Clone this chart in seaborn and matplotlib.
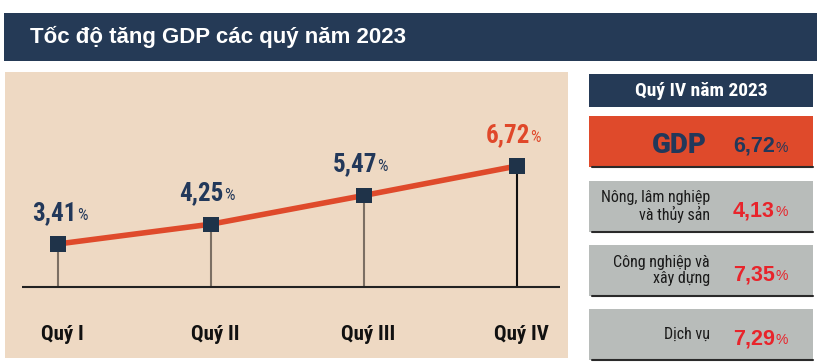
import numpy as np
import pandas as pd
import matplotlib.pyplot as plt
import seaborn as sns
from matplotlib.patches import Rectangle

# data
quarters = ['Quý I', 'Quý II', 'Quý III', 'Quý IV']
growth = [3.41, 4.25, 5.47, 6.72]
label_colors = ['#22385a', '#22385a', '#22385a', '#e0482a']
stem_colors = ['#7b6f63', '#7b6f63', '#7b6f63', '#111111']

title = 'Tốc độ tăng GDP các quý năm 2023'
panel_title = 'Quý IV năm 2023'
sectors = ['GDP', 'Nông, lâm nghiệp\nvà thủy sản', 'Công nghiệp và\nxây dựng', 'Dịch vụ']
sector_growth = [6.72, 4.13, 7.35, 7.29]

NAVY = '#253a56'
ORANGE = '#df4a2b'
GRAY = '#b8bcba'
RED = '#e8242b'
BEIGE = '#eed9c3'
NARROW = ['Roboto Condensed', 'Liberation Sans', 'DejaVu Sans']
WIDE = ['Liberation Sans', 'DejaVu Sans']


def fmt(v):
    return f'{v:.2f}'.replace('.', ',')


sns.set_theme(style='white')
plt.rcParams['font.family'] = WIDE

W, H = 817, 362
fig = plt.figure(figsize=(W / 100, H / 100), dpi=100, facecolor='white')

# background layer in pixel coordinates
bg = fig.add_axes([0, 0, 1, 1], zorder=0)
bg.set_xlim(0, W)
bg.set_ylim(H, 0)
bg.axis('off')

bg.add_patch(Rectangle((4, 13), W - 4, 48, color=NAVY, lw=0))
bg.text(30, 37, title, color='white', fontsize=16, fontweight='bold',
        va='center', ha='left', family=WIDE)

bg.add_patch(Rectangle((5, 72), 563, 286, color=BEIGE, lw=0))

# right panel
bg.add_patch(Rectangle((589, 74), 224, 33, color=NAVY, lw=0))
bg.text(701, 91, panel_title, color='white', fontsize=14, fontweight='bold',
        ha='center', va='center', family=NARROW)

box_tops = [116, 181, 245, 309]
box_h = 51
for i, (name, val) in enumerate(zip(sectors, sector_growth)):
    top = box_tops[i]
    cy = top + box_h / 2
    bg.add_patch(Rectangle((589, top), 224, box_h, color=ORANGE if i == 0 else GRAY, lw=0))
    bg.plot([592, 813], [top + box_h, top + box_h], color='#2a2a2a', lw=1.5)
    if i == 0:
        bg.text(707, cy + 11.5, name, color='#22385a', fontsize=20, fontweight='black',
                ha='right', va='baseline', family=['Roboto'] + WIDE)
        vcol = '#22385a'
    else:
        bg.text(710, cy, name, color='#1a1a1a', fontsize=11.5, ha='right', va='center',
                multialignment='right', linespacing=1.0, family=NARROW)
        vcol = RED
    bg.text(775, cy + 10, fmt(val), color=vcol, fontsize=15.5, fontweight='bold',
            ha='right', va='baseline', family=WIDE)
    bg.text(776, cy + 10, '%', color=vcol, fontsize=10, ha='left', va='baseline', family=WIDE)

# main chart axes over the beige panel
ax = fig.add_axes([5 / W, 4 / H, 563 / W, 286 / H], zorder=1)
ax.set_facecolor('none')
x = np.arange(len(quarters))
base = 1.58
ax.set_xlim(-0.346, 3.333)
ax.set_ylim(-1.43, 10.71)

ax.vlines(x, base, growth, colors=stem_colors, lw=1.5, zorder=2)
ax.hlines(base, -0.235, 3.281, color='#222222', lw=1.5, zorder=2)
sns.lineplot(x=x, y=growth, ax=ax, color=ORANGE, lw=4, zorder=3)
sns.scatterplot(x=x, y=growth, ax=ax, marker='s', s=120, color='#1f3349',
                edgecolor='none', zorder=4)

for i, (v, c) in enumerate(zip(growth, label_colors)):
    dx = 6 if i == 0 else 0
    ax.annotate(fmt(v), (i, v), xytext=(13 + dx, 24), textcoords='offset pixels',
                ha='right', va='baseline', fontsize=18, fontweight='bold', color=c,
                family=NARROW)
    ax.annotate('%', (i, v), xytext=(13 + dx, 24), textcoords='offset pixels',
                ha='left', va='baseline', fontsize=12, color=c, family=NARROW)
    ax.annotate(quarters[i], (i, base), xytext=(4, -53), textcoords='offset pixels',
                ha='center', va='baseline', fontsize=15, fontweight='bold',
                color='#111111', family=NARROW)

ax.set_xticks([])
ax.set_yticks([])
for s in ax.spines.values():
    s.set_visible(False)

fig.savefig('out.png', dpi=100, facecolor='white')
